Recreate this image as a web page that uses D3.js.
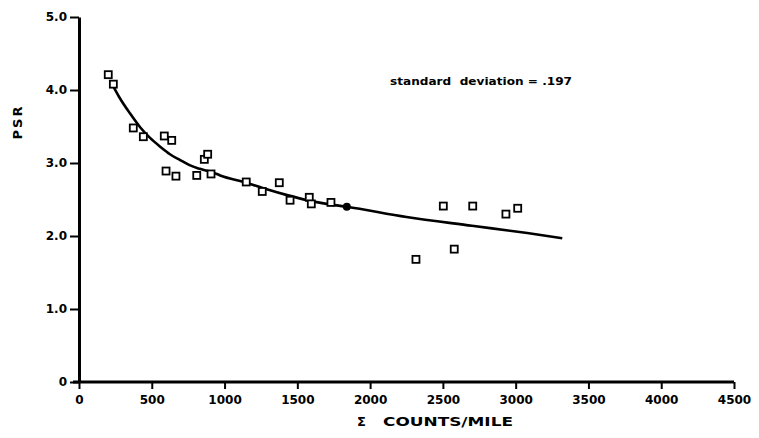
<!DOCTYPE html>
<html>
<head>
<meta charset="utf-8">
<script src="https://cdn.jsdelivr.net/npm/d3@7"></script>
<style>
  body { margin: 0; background: #fff; }
  svg { display: block; }
  text { font-family: "DejaVu Sans", sans-serif; font-weight: bold; fill: #000; }
</style>
</head>
<body>
<svg id="chart"></svg>
<script>
// measured points (counts/mile, PSR)
const countsPerMile = [201, 236, 373, 442, 586, 637, 598, 666, 809, 861, 884, 907, 1149, 1259, 1376, 1450, 1582, 1596, 1731, 2503, 2705, 2933, 3014, 2578, 2315];
const psrValues = [4.21, 4.08, 3.48, 3.36, 3.37, 3.31, 2.89, 2.82, 2.83, 3.05, 3.12, 2.85, 2.74, 2.61, 2.73, 2.49, 2.53, 2.44, 2.46, 2.41, 2.41, 2.30, 2.38, 1.82, 1.68];

// fitted curve
const curveX = [230, 280, 350, 420, 490, 560, 625, 695, 760, 830, 920, 970, 1150, 1290, 1430, 1570, 1700, 1840, 2250, 2700, 3080, 3320];
const curveY = [4.07, 3.89, 3.68, 3.49, 3.34, 3.22, 3.12, 3.04, 2.97, 2.92, 2.87, 2.83, 2.73, 2.64, 2.56, 2.49, 2.44, 2.40, 2.26, 2.14, 2.04, 1.97];

// highlighted point on the curve
const markX = [1840];
const markY = [2.40];

const xTicks = [0, 500, 1000, 1500, 2000, 2500, 3000, 3500, 4000, 4500];
const yTicks = [0, 1, 2, 3, 4, 5];
const yTickLabels = ['0', '1.0', '2.0', '3.0', '4.0', '5.0'];

function drawChart() {
    const width = 759;
    const height = 438;

    const svg = d3.select('#chart')
        .attr('width', width)
        .attr('height', height);

    const x = d3.scaleLinear().domain([0, 4500]).range([79, 734]);
    const y = d3.scaleLinear().domain([0, 5]).range([382, 17]);

    // x axis
    const gx = svg.append('g')
        .attr('transform', `translate(0, ${y(0)})`)
        .call(d3.axisBottom(x)
            .tickValues(xTicks)
            .tickSize(7)
            .tickSizeOuter(0)
            .tickPadding(6)
            .tickFormat(d => d));
    gx.select('.domain').attr('stroke-width', 3).attr('d', `M${x(0) - 6},0H${x(4500)}`);
    gx.selectAll('.tick line').attr('stroke-width', 2);
    gx.selectAll('.tick text').style('font-size', '12px');

    // y axis
    const gy = svg.append('g')
        .attr('transform', `translate(${x(0)}, 0)`)
        .call(d3.axisLeft(y)
            .tickValues(yTicks)
            .tickSize(9)
            .tickSizeOuter(0)
            .tickPadding(3)
            .tickFormat((d, i) => yTickLabels[i]));
    gy.select('.domain').attr('stroke-width', 3);
    gy.selectAll('.tick line').attr('stroke-width', 2);
    gy.selectAll('.tick text').style('font-size', '12px');

    // fitted curve
    const line = d3.line()
        .x(d => x(d[0]))
        .y(d => y(d[1]))
        .curve(d3.curveMonotoneX);

    svg.append('path')
        .datum(curveX.map((d, i) => [d, curveY[i]]))
        .attr('d', line)
        .attr('fill', 'none')
        .attr('stroke', '#000')
        .attr('stroke-width', 2.6);

    // square markers
    const s = 7;
    svg.selectAll('.pt')
        .data(countsPerMile.map((d, i) => [d, psrValues[i]]))
        .enter().append('rect')
        .attr('class', 'pt')
        .attr('x', d => x(d[0]) - s / 2)
        .attr('y', d => y(d[1]) - s / 2)
        .attr('width', s)
        .attr('height', s)
        .attr('fill', '#fff')
        .attr('stroke', '#000')
        .attr('stroke-width', 1.8);

    svg.selectAll('.mark')
        .data(markX.map((d, i) => [d, markY[i]]))
        .enter().append('circle')
        .attr('class', 'mark')
        .attr('cx', d => x(d[0]))
        .attr('cy', d => y(d[1]))
        .attr('r', 4)
        .attr('fill', '#000');

    // annotation
    svg.append('text')
        .attr('x', 390)
        .attr('y', 85)
        .attr('textLength', 182)
        .attr('lengthAdjust', 'spacingAndGlyphs')
        .style('font-size', '11px')
        .style('white-space', 'pre')
        .text('standard  deviation = .197');

    // axis titles
    svg.append('text')
        .attr('transform', 'translate(22, 122) rotate(-90)')
        .style('text-anchor', 'middle')
        .style('font-size', '13px')
        .style('letter-spacing', '2px')
        .text('PSR');

    svg.append('text')
        .attr('x', 357)
        .attr('y', 426)
        .style('font-size', '13px')
        .text('Σ');

    svg.append('text')
        .attr('x', 383)
        .attr('y', 426)
        .attr('textLength', 130)
        .attr('lengthAdjust', 'spacingAndGlyphs')
        .style('font-size', '13px')
        .text('COUNTS/MILE');
}

window.addEventListener('load', drawChart);
</script>
</body>
</html>
